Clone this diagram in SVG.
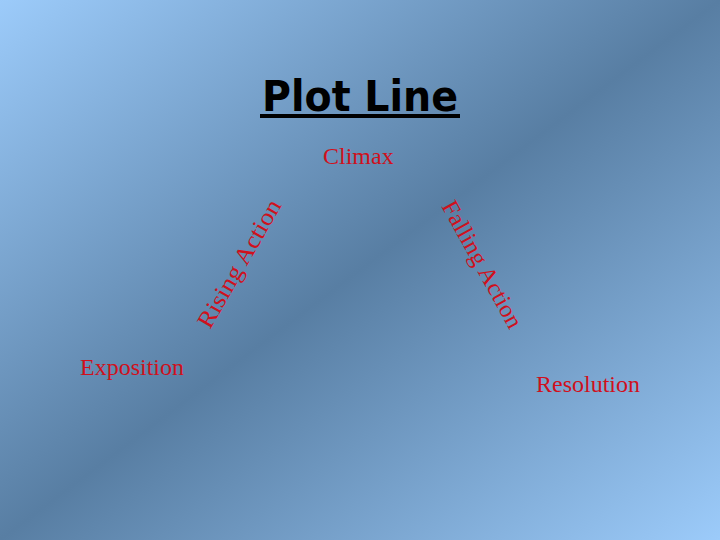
<svg xmlns="http://www.w3.org/2000/svg" width="720" height="540" viewBox="0 0 720 540">
  <defs>
    <linearGradient id="bg" x1="0" y1="0" x2="1" y2="1">
      <stop offset="0" stop-color="#9ccbfa"/>
      <stop offset="0.5" stop-color="#587ea3"/>
      <stop offset="1" stop-color="#9ccbfa"/>
    </linearGradient>
    <style>
      .lbl { font-family: "Liberation Serif", "Times New Roman", serif; font-size: 24px; fill: #d0101c; }
      .title { font-family: "DejaVu Sans", "Liberation Sans", sans-serif; font-size: 42px; font-weight: bold; fill: #000; }
    </style>
  </defs>
  <rect x="0" y="0" width="720" height="540" fill="url(#bg)"/>
  <g id="title">
    <text class="title" x="360" y="111" text-anchor="middle" textLength="196" lengthAdjust="spacingAndGlyphs">Plot Line</text>
    <rect x="260" y="114" width="200" height="4" fill="#000"/>
  </g>
  <g id="climax"><text class="lbl" x="323" y="164">Climax</text></g>
  <g id="exposition"><text class="lbl" x="80" y="375">Exposition</text></g>
  <g id="resolution"><text class="lbl" x="536" y="392">Resolution</text></g>
  <g id="connectors">
    <g id="rising"><text class="lbl" transform="translate(210,330) rotate(-60)" textLength="144" lengthAdjust="spacingAndGlyphs">Rising Action</text></g>
    <g id="falling"><text class="lbl" transform="translate(441,206) rotate(61)" textLength="142" lengthAdjust="spacingAndGlyphs">Falling Action</text></g>
  </g>
</svg>
